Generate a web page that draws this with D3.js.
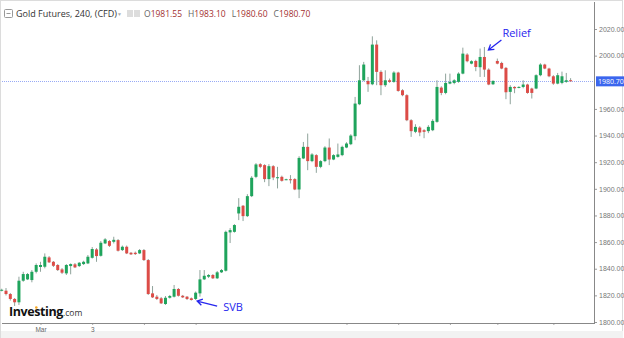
<!DOCTYPE html>
<html>
<head>
<meta charset="utf-8">
<script src="https://cdn.jsdelivr.net/npm/d3@7"></script>
<style>
  body { margin: 0; background: #fff; }
  svg { font-family: "Open Sans", Arial, sans-serif; display: block; }
</style>
</head>
<body>
<svg id="chart" width="624" height="338"></svg>
<script>
// 240 min candles (oldest first)
var opens = [
  1824.0, 1823.5, 1821.0, 1817.3, 1814.8, 1831.0, 1832.0, 1831.5, 1837.7, 1841.3,
  1841.5, 1848.5, 1845.2, 1842.8, 1839.5, 1836.5, 1842.0, 1843.3, 1842.0, 1843.5,
  1844.0, 1848.2, 1854.5, 1849.7, 1859.0, 1860.8, 1860.2, 1861.5, 1854.0, 1856.5,
  1852.0, 1852.0, 1851.5, 1854.0, 1846.5, 1821.5, 1819.0, 1817.8, 1813.5, 1818.2,
  1819.0, 1824.8, 1819.7, 1819.0, 1817.8, 1817.3, 1821.5, 1832.0, 1834.0, 1835.3,
  1832.8, 1837.3, 1838.5, 1867.3, 1867.7, 1881.5, 1887.3, 1879.5, 1894.5, 1909.0,
  1918.5, 1917.8, 1907.3, 1917.0, 1908.5, 1909.0, 1907.0, 1907.2, 1907.3, 1899.5,
  1922.8, 1931.5, 1920.8, 1925.3, 1916.5, 1920.8, 1931.0, 1922.0, 1924.0, 1925.3,
  1931.0, 1933.5, 1939.5, 1963.5, 1981.5, 1981.0, 1978.5, 2008.3, 1987.8, 1977.8,
  1981.5, 1980.3, 1987.3, 1974.0, 1970.3, 1951.5, 1942.8, 1946.0, 1944.0, 1943.3,
  1944.0, 1950.3, 1976.0, 1972.0, 1979.0, 1979.5, 1980.3, 1986.5, 2000.8, 1994.0,
  1996.0, 1991.3, 1999.0, 1989.5, 1978.5, 1996.0, 1994.5, 1990.8, 1972.8, 1976.5,
  1976.3, 1976.5, 1978.3, 1975.3, 1975.3, 1985.3, 1993.3, 1990.3, 1984.5, 1979.0,
  1979.5, 1980.3, 1981.55
];
var highs = [
  1825.0, 1825.5, 1821.8, 1818.0, 1834.0, 1837.7, 1836.8, 1839.0, 1844.0, 1845.2,
  1851.5, 1849.5, 1845.8, 1843.5, 1840.5, 1843.5, 1844.0, 1844.3, 1845.0, 1846.0,
  1850.3, 1856.3, 1855.5, 1860.8, 1863.0, 1861.5, 1864.0, 1862.3, 1857.4, 1857.4,
  1852.5, 1852.9, 1854.8, 1854.8, 1847.3, 1827.0, 1820.3, 1818.8, 1819.5, 1820.3,
  1827.8, 1825.5, 1820.3, 1819.5, 1818.4, 1822.9, 1839.0, 1839.0, 1836.0, 1836.0,
  1838.3, 1839.8, 1868.6, 1870.5, 1873.5, 1893.0, 1887.8, 1896.0, 1909.5, 1919.3,
  1919.3, 1918.5, 1918.5, 1917.8, 1916.5, 1909.9, 1907.6, 1910.3, 1908.0, 1924.5,
  1935.2, 1941.5, 1926.8, 1926.0, 1921.5, 1932.0, 1937.8, 1926.0, 1934.0, 1932.4,
  1935.0, 1941.0, 1969.0, 1992.8, 1995.3, 1984.0, 2014.5, 2011.5, 1989.0, 1989.0,
  1982.8, 1988.3, 1987.9, 1974.8, 1971.0, 1952.3, 1948.5, 1947.0, 1944.8, 1947.8,
  1952.3, 1981.5, 1977.0, 1986.5, 1986.5, 1982.3, 1987.5, 2006.0, 2001.8, 1996.5,
  1996.9, 2005.3, 2006.5, 1990.5, 1981.5, 1997.8, 1995.4, 1991.5, 1977.8, 1977.0,
  1977.0, 1981.5, 1978.9, 1975.9, 1986.0, 1994.3, 1993.9, 1990.9, 1985.3, 1987.0,
  1988.0, 1987.0, 1983.10
];
var lows = [
  1823.0, 1819.9, 1816.1, 1812.0, 1812.8, 1830.2, 1831.5, 1829.8, 1836.5, 1837.7,
  1840.3, 1844.3, 1841.3, 1838.3, 1836.0, 1835.3, 1835.8, 1840.5, 1841.3, 1842.8,
  1843.5, 1847.6, 1845.2, 1849.1, 1858.5, 1856.3, 1859.0, 1852.9, 1853.3, 1851.0,
  1850.3, 1850.3, 1851.0, 1845.8, 1820.3, 1818.0, 1816.5, 1813.5, 1812.8, 1817.6,
  1818.4, 1819.1, 1818.0, 1816.5, 1816.1, 1816.5, 1819.0, 1831.5, 1833.0, 1832.3,
  1832.3, 1836.8, 1837.9, 1859.3, 1867.1, 1876.5, 1875.8, 1878.8, 1893.8, 1908.0,
  1915.5, 1905.0, 1902.0, 1906.5, 1900.3, 1905.4, 1906.5, 1904.0, 1899.0, 1893.0,
  1922.3, 1914.0, 1920.0, 1912.0, 1915.5, 1920.0, 1917.8, 1921.5, 1923.4, 1924.5,
  1930.5, 1932.8, 1936.5, 1962.8, 1980.8, 1972.8, 1977.8, 1977.8, 1970.3, 1976.5,
  1979.6, 1979.6, 1972.9, 1969.5, 1950.8, 1939.0, 1941.8, 1939.5, 1938.0, 1941.8,
  1943.3, 1949.6, 1970.3, 1971.0, 1978.5, 1978.5, 1979.6, 1986.0, 1995.0, 1993.5,
  1988.3, 1984.0, 1984.0, 1977.8, 1978.0, 1993.5, 1989.8, 1967.3, 1963.5, 1971.8,
  1975.5, 1975.5, 1971.4, 1967.8, 1974.8, 1984.5, 1989.8, 1983.8, 1978.1, 1978.5,
  1978.5, 1979.6, 1980.60
];
var closes = [
  1824.2, 1821.0, 1817.3, 1814.8, 1831.0, 1836.0, 1836.0, 1837.7, 1842.8, 1842.8,
  1849.0, 1844.8, 1842.2, 1839.0, 1837.0, 1842.8, 1843.5, 1841.0, 1844.5, 1845.2,
  1849.0, 1854.8, 1849.5, 1859.5, 1862.0, 1857.2, 1861.7, 1853.5, 1856.5, 1851.5,
  1850.8, 1851.0, 1854.0, 1846.5, 1821.0, 1818.5, 1817.3, 1814.0, 1818.2, 1819.5,
  1824.8, 1819.7, 1818.5, 1817.3, 1816.5, 1822.0, 1832.0, 1834.7, 1835.3, 1832.8,
  1837.3, 1839.0, 1867.7, 1869.0, 1872.8, 1886.5, 1879.5, 1894.5, 1908.3, 1918.3,
  1916.5, 1907.3, 1917.0, 1908.5, 1908.7, 1906.0, 1907.2, 1907.0, 1899.5, 1923.2,
  1931.5, 1920.8, 1925.8, 1916.5, 1920.8, 1931.0, 1922.0, 1925.3, 1925.8, 1931.5,
  1934.0, 1940.0, 1964.0, 1981.5, 1993.3, 1978.5, 2008.3, 1987.8, 1977.8, 1981.5,
  1980.3, 1987.3, 1973.5, 1970.3, 1951.5, 1943.3, 1946.5, 1942.3, 1942.8, 1946.5,
  1951.0, 1976.5, 1972.0, 1979.5, 1980.3, 1981.5, 1986.5, 2001.5, 1995.8, 1995.8,
  1991.5, 1999.0, 1989.5, 1978.3, 1981.0, 1994.0, 1990.3, 1972.5, 1976.5, 1975.5,
  1976.5, 1978.3, 1972.0, 1972.0, 1985.3, 1993.3, 1990.3, 1984.5, 1979.0, 1985.3,
  1984.5, 1981.5, 1980.70
];

// 1980 sits under the last-price tag, so it has no label of its own
var priceTicks = [1800, 1820, 1840, 1860, 1880, 1900, 1920, 1940, 1960, 2000, 2020];
var dateTickIdx = [9, 21, 33, 45, 80, 92, 104, 115, 128];
var dateTickLabels = ["Mar", "3", "", "", "", "", "", "", ""];
var lastPrice = 1980.70;
var headerTitle = "Gold Futures, 240, (CFD)";
var headerOHLC = [["O", "1981.55"], ["H", "1983.10"], ["L", "1980.60"], ["C", "1980.70"]];

var upColor = "#1fa45c", downColor = "#dc4c47", wickColor = "#8fa39b",
    noteColor = "#2626ee", axisColor = "#888";

var svg = d3.select("#chart"),
    plotLeft = 2, plotRight = 594, plotTop = 2, plotBottom = 323;

var candles = opens.map(function(o, i) {
  return {i: i, o: o, h: highs[i], l: lows[i], c: closes[i]};
});

var x = d3.scaleLinear().domain([0, candles.length - 1]).range([1.7, 570.6]);
var y = d3.scaleLinear().domain([1800, 2020]).range([322, 29]);

// frame
svg.append("rect").attr("x", 0.5).attr("y", 0.5).attr("width", 622).attr("height", 337)
  .attr("fill", "none").attr("stroke", "#dcdcdc");
svg.append("rect").attr("x", 1).attr("y", 331).attr("width", 622).attr("height", 7)
  .attr("fill", "#f2f2f2");

svg.append("defs").append("clipPath").attr("id", "plotclip")
  .append("rect").attr("x", 0).attr("y", 0).attr("width", 624).attr("height", 325);

// last price line
svg.append("line")
  .attr("x1", plotLeft).attr("x2", plotRight)
  .attr("y1", Math.round(y(lastPrice)) + 0.5).attr("y2", Math.round(y(lastPrice)) + 0.5)
  .attr("stroke", "#98aaf5").attr("stroke-dasharray", "1,1");

// candles
var g = svg.append("g").attr("class", "candles");
var cg = g.selectAll("g.candle").data(candles).enter().append("g").attr("class", "candle");

cg.append("line")
  .attr("x1", d => x(d.i)).attr("x2", d => x(d.i))
  .attr("y1", d => y(d.h)).attr("y2", d => y(d.l))
  .attr("stroke", wickColor).attr("stroke-width", 1);

cg.append("rect")
  .attr("x", d => x(d.i) - 1.5)
  .attr("width", 3)
  .attr("y", d => y(Math.max(d.o, d.c)))
  .attr("height", d => Math.max(1, Math.abs(y(d.o) - y(d.c))))
  .attr("fill", d => d.c >= d.o ? upColor : downColor);

// right price axis
var yAxis = d3.axisRight(y).tickValues(priceTicks).tickSize(3).tickPadding(2)
  .tickFormat(d3.format(".2f"));
var yg = svg.append("g").attr("transform", "translate(" + plotRight + ",0)")
  .attr("clip-path", "url(#plotclip)")
  .call(yAxis);
yg.select(".domain").remove();
yg.selectAll(".tick line").attr("stroke", "#999");
yg.selectAll(".tick text").attr("fill", "#777").attr("font-size", 7);

svg.append("line").attr("x1", plotRight + 0.5).attr("x2", plotRight + 0.5)
  .attr("y1", plotTop).attr("y2", plotBottom).attr("stroke", axisColor);

// bottom time axis
var xAxis = d3.axisBottom(x).tickValues(dateTickIdx).tickSize(2).tickPadding(2)
  .tickFormat((d, i) => dateTickLabels[i]);
var xg = svg.append("g").attr("transform", "translate(0," + plotBottom + ")").call(xAxis);
xg.select(".domain").remove();
xg.selectAll(".tick line").attr("stroke", "#aaa");
xg.selectAll(".tick text").attr("fill", "#666").attr("font-size", 6.5);

svg.append("line").attr("x1", plotLeft).attr("x2", plotRight + 1)
  .attr("y1", plotBottom + 0.5).attr("y2", plotBottom + 0.5).attr("stroke", axisColor);

// last price tag
var tagY = y(lastPrice);
svg.append("rect").attr("x", plotRight + 2).attr("y", tagY - 5).attr("width", 28).attr("height", 10)
  .attr("fill", "#3b66ee");
svg.append("text").attr("x", plotRight + 4).attr("y", tagY + 2.5)
  .attr("fill", "#fff").attr("font-size", 7).text(d3.format(".2f")(lastPrice));

// header
var header = svg.append("g").attr("transform", "translate(4,17)");
header.append("rect").attr("x", 0.5).attr("y", -7.5).attr("width", 8).attr("height", 8)
  .attr("fill", "none").attr("stroke", "#999").attr("rx", 1);
header.append("line").attr("x1", 2.5).attr("x2", 6.5).attr("y1", -3.5).attr("y2", -3.5).attr("stroke", "#999");
header.append("text").attr("x", 12).attr("y", 0).attr("font-size", 9).attr("fill", "#333")
  .text(headerTitle);
header.append("text").attr("x", 113).attr("y", -1.5).attr("font-size", 5).attr("fill", "#aaa").text("▼");
header.append("rect").attr("x", 123).attr("y", -7).attr("width", 6).attr("height", 7).attr("fill", "#ddd");
header.append("rect").attr("x", 130).attr("y", -7).attr("width", 6).attr("height", 7).attr("fill", "#ddd");
var ohlc = header.append("text").attr("x", 140).attr("y", 0).attr("font-size", 8.5);
headerOHLC.forEach(function(p, k) {
  ohlc.append("tspan").attr("fill", "#666").attr("dx", k ? 6 : 0).text(p[0]);
  ohlc.append("tspan").attr("fill", "#a33030").text(p[1]);
});

// annotations
function arrow(tx, ty, fx, fy) {
  var a = Math.atan2(fy - ty, fx - tx), len = 6, spread = 0.55;
  var p = d3.path();
  p.moveTo(fx, fy); p.lineTo(tx, ty);
  p.moveTo(tx + len * Math.cos(a - spread), ty + len * Math.sin(a - spread));
  p.lineTo(tx, ty);
  p.lineTo(tx + len * Math.cos(a + spread), ty + len * Math.sin(a + spread));
  svg.append("path").attr("d", p.toString()).attr("fill", "none")
    .attr("stroke", noteColor).attr("stroke-width", 1.3);
}
var svbTip = [x(45) + 1.5, y(lows[45]) + 1];
arrow(svbTip[0], svbTip[1], svbTip[0] + 20, svbTip[1] + 5);
svg.append("text").attr("x", svbTip[0] + 26).attr("y", svbTip[1] + 10)
  .attr("font-size", 11).attr("fill", noteColor).text("SVB");

var reliefTip = [x(112) + 4, y(highs[112]) + 3];
arrow(reliefTip[0], reliefTip[1], reliefTip[0] + 13, reliefTip[1] - 10);
svg.append("text").attr("x", reliefTip[0] + 14).attr("y", reliefTip[1] - 13)
  .attr("font-size", 11).attr("fill", noteColor).text("Relief");

// watermark
var logo = svg.append("text").attr("x", 9).attr("y", 316);
logo.append("tspan").attr("font-weight", "bold").attr("font-size", 12.5).attr("fill", "#111")
  .attr("letter-spacing", -0.4).text("Investing");
logo.append("tspan").attr("font-size", 8.5).attr("fill", "#333").text(".com");
svg.append("circle").attr("cx", 36.3).attr("cy", 307.5).attr("r", 1.3).attr("fill", "#f5a623");
</script>
</body>
</html>
